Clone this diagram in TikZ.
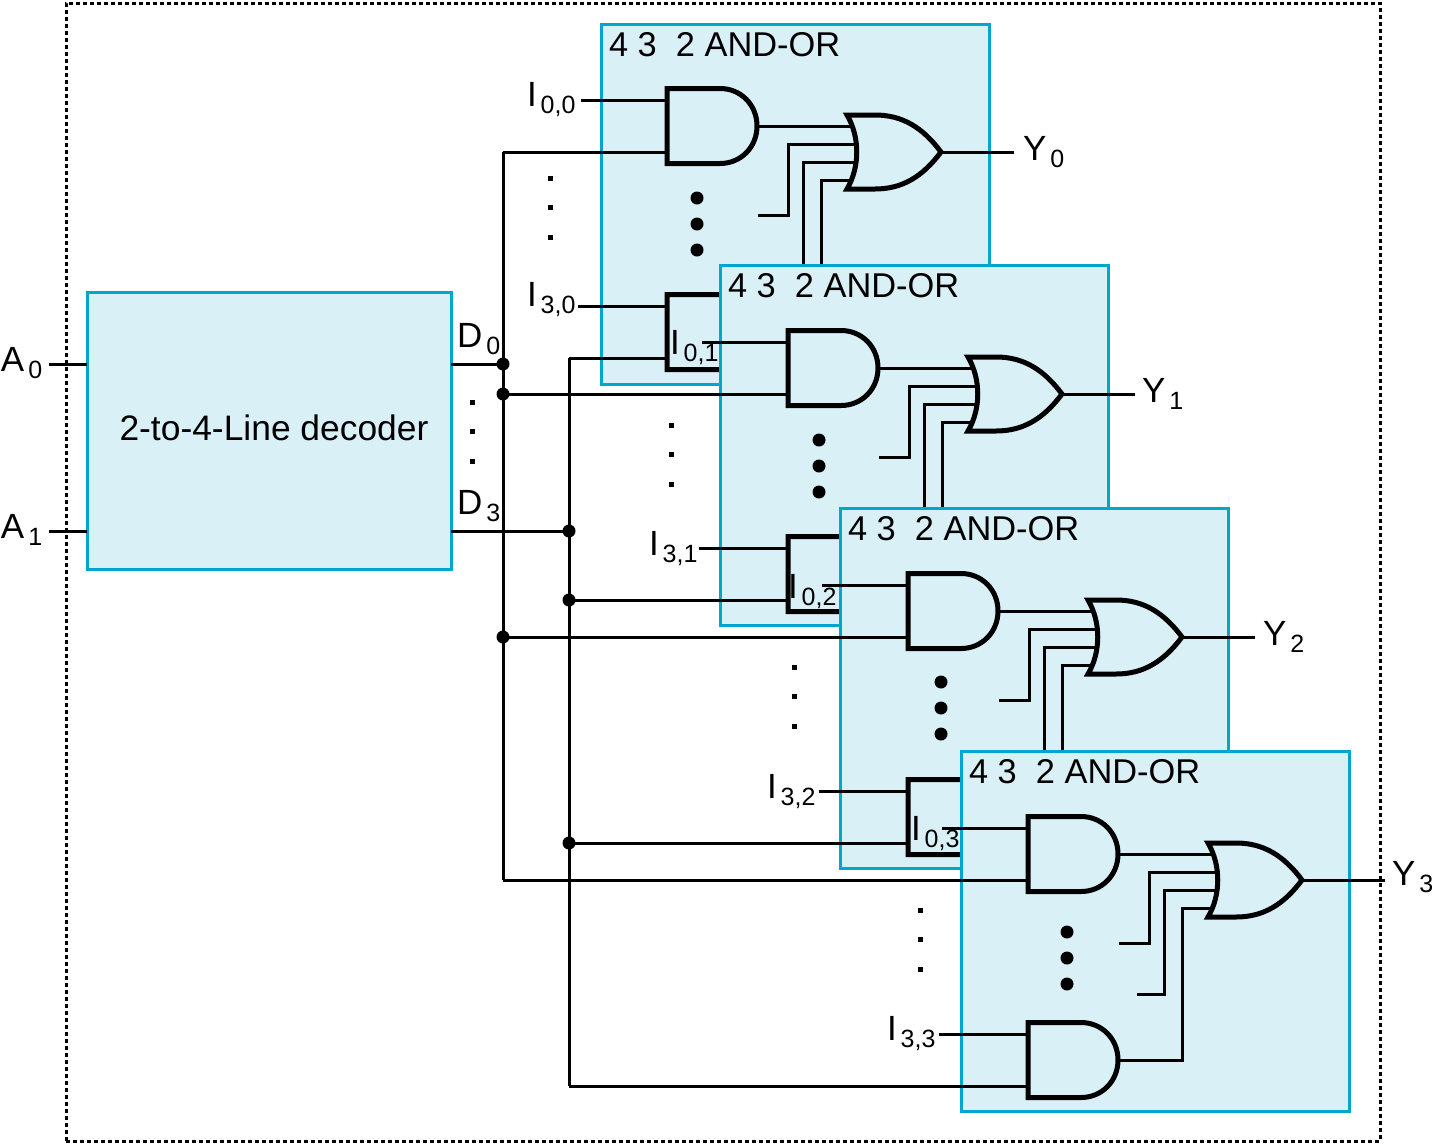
\documentclass[tikz,border=0pt]{standalone}
\usepackage{fontspec}
\setmainfont{Liberation Sans}
\definecolor{boxfill}{HTML}{DAF0F7}
\definecolor{boxline}{HTML}{00A6CB}
\newcommand{\subl}[2]{#1\hspace{4pt}\raisebox{-7pt}{\fontsize{25}{25}\selectfont #2}}

\begin{document}
\begin{tikzpicture}[x=1pt, y=-1pt, line width=3pt,
	every node/.style = {inner sep=0pt, outer sep=0pt, font=\fontsize{35}{40}\selectfont},
	lbl/.style = {anchor=base west},
	block/.style = {draw=boxline, fill=boxfill, anchor=north west, minimum width=388, minimum height=360},
	andg/.pic = {
		\draw[line width=5pt] (-90,-37.5) -- (-37,-37.5) .. controls (-16,-37.5) and (0,-21) .. (0,0)
			.. controls (0,21) and (-16,37.5) .. (-37,37.5) -- (-90,37.5) -- cycle;
		\coordinate (-in1) at (-90,-26);
		\coordinate (-in2) at (-90,26);
		\coordinate (-out) at (0,0);
	},
	org/.pic = {
		\draw[line width=5pt] (-94,-37) -- (-66,-37) .. controls (-38,-37) and (-18,-24) .. (0,0)
			.. controls (-18,24) and (-38,37) .. (-66,37) -- (-94,37)
			.. controls (-81,15) and (-81,-15) .. cycle;
		\coordinate (-in1) at (-90,-26);
		\coordinate (-in2) at (-85,-8);
		\coordinate (-in3) at (-85,10);
		\coordinate (-in4) at (-90,28);
		\coordinate (-out) at (0,0);
	},
	jdot/.style = {circle, fill, minimum size=13},
	sdot/.style = {rectangle, fill, minimum size=5}]
	\useasboundingbox (0,0) rectangle (1432,1144);
	\node (frame) [draw, dash pattern=on 4pt off 3pt, anchor=north west, minimum width=1314, minimum height=1138] at (66,3) {};
	\node (dec) [draw=boxline, fill=boxfill, anchor=north west, minimum width=364, minimum height=277] at (87,292) {};
	\node (dectxt) [font=\fontsize{35.4}{40}\selectfont] at (274,428) {2-to-4-Line decoder};
	\coordinate (busa) at (503,0);
	\coordinate (busb) at (569,0);
	\foreach \n/\dx/\dy/\bx/\by/\ox in {0/0/0/601/24/1014, 1/121/242/720/265/1135, 2/241/485/840/508/1255, 3/361/728/961/751/1385} {
		\node (box\n) [block] at (\bx,\by) {};
		\node (title\n) [lbl, font=\fontsize{34.4}{40}\selectfont] at (\bx+8,\by+32) {4 3\ \ 2 AND-OR};
		\pic (up\n) at (\dx+757,\dy+126) {andg};
		\pic (lo\n) at (\dx+757,\dy+332) {andg};
		\pic (or\n) at (\dx+941,\dy+152) {org};
		\coordinate (sa\n) at (\dx+581,\dy+100);
		\coordinate (sb\n) at (\dx+578,\dy+306);
		\coordinate (sc\n) at (\dx+758,\dy+215);
		\coordinate (sd\n) at (\dx+776,\dy+266);
		\coordinate (ke\n) at (\dx+788,0);
		\coordinate (kf\n) at (\dx+803,0);
		\coordinate (kg\n) at (\dx+821,0);
		\coordinate (y\n) at (\ox,\dy+152);
		\draw (sa\n) -- (up\n-in1);
		\draw (sb\n) -- (lo\n-in1);
		\draw (busa |- up\n-in2) -- (up\n-in2);
		\draw (busb |- lo\n-in2) -- (lo\n-in2);
		\draw (up\n-out) -- (or\n-in1);
		\draw (sc\n) -- (ke\n |- sc\n) -- (ke\n |- or\n-in2) -- (or\n-in2);
		\draw (sd\n) -- (kf\n |- sd\n) -- (kf\n |- or\n-in3) -- (or\n-in3);
		\draw (lo\n-out) -- (kg\n |- lo\n-out) -- (kg\n |- or\n-in4) -- (or\n-in4);
		\draw (or\n-out) -- (y\n);
	}
	% buses and decoder outputs
	\draw (busa |- up0-in2) -- (busa |- up3-in2);
	\draw (busb |- lo0-in2) -- (busb |- lo3-in2);
	\coordinate (a0in) at (49,364);
	\coordinate (a1in) at (49,531);
	\draw (a0in) -- (dec.west |- a0in);
	\draw (a1in) -- (dec.west |- a1in);
	\node (j0) [jdot] at (503,364) {};
	\node (j1) [jdot] at (503,394) {};
	\node (j2) [jdot] at (569,531) {};
	\node (j3) [jdot] at (569,600) {};
	\node (j4) [jdot] at (503,637) {};
	\node (j5) [jdot] at (569,843) {};
	\draw (dec.east |- j0) -- (j0);
	\draw (dec.east |- j2) -- (j2);
	% labels
	\node (a0) [lbl] at (1,371) {\subl{A}{0}};
	\node (a1) [lbl] at (1,538) {\subl{A}{1}};
	\node (d0) [lbl] at (457,347) {\subl{D}{0}};
	\node (d3) [lbl] at (457,514) {\subl{D}{3}};
	\foreach \n/\x/\y in {0/1023/160, 1/1142/402, 2/1263/645, 3/1392/885}
		\node (yl\n) [lbl] at (\x,\y) {\subl{Y}{\n}};
	\foreach \n/\x/\y in {0/527/106, 1/670/354, 2/788/598, 3/911/840}
		\node (ia\n) [lbl] at (\x,\y) {\subl{I}{0,\n}};
	\foreach \n/\x/\y in {0/527/306, 1/649/555, 2/767/798, 3/887/1040}
		\node (ib\n) [lbl] at (\x,\y) {\subl{I}{3,\n}};
	\foreach \n/\x/\y in {0/697/198, 1/819/440, 2/941/682, 3/1067/932}
		\foreach \k in {0,1,2}
			\node (gd\n\k) [jdot] at (\x,\y+26*\k) {};
	\foreach \n/\x/\y in {0/550/178, 1/671/425, 2/794/667, 3/920/910, 4/472/402}
		\foreach \k in {0,1,2}
			\node (sd\n\k) [sdot] at (\x,\y+29.5*\k) {};
\end{tikzpicture}
\end{document}
